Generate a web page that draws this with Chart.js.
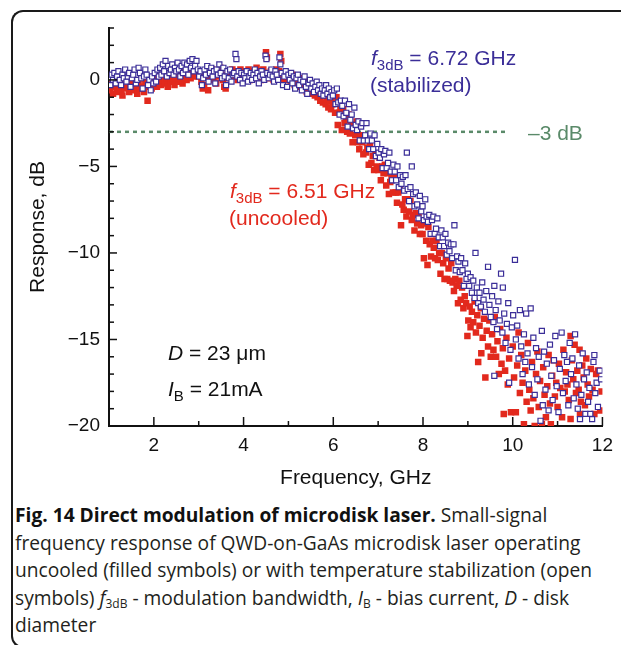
<!DOCTYPE html>
<html>
<head>
<meta charset="utf-8">
<script src="https://cdn.jsdelivr.net/npm/chart.js@4.4.0/dist/chart.umd.min.js"></script>
<style>
  html, body { margin: 0; padding: 0; background: #fff; }
  body { width: 621px; height: 645px; position: relative; overflow: hidden; }
  #frame {
    position: absolute; left: 11px; top: 10px; width: 700px; height: 634px;
    border-left: 2.5px solid #1a1a1a; border-top: 2.5px solid #1a1a1a; border-bottom: 2.5px solid #1a1a1a;
    border-radius: 12px 0 0 12px;
  }
  #chart { position: absolute; left: 0; top: 0; }
  #caption {
    position: absolute; left: 15px; top: 501px;
    font-family: "Open Sans", sans-serif; font-size: 19.2px; line-height: 27.5px;
    color: #231f20; white-space: nowrap;
  }
  #caption b { color: #111; }
  #caption sub { font-size: 12px; vertical-align: -3px; line-height: 0; }
</style>
</head>
<body>
<div id="frame"></div>
<canvas id="chart" width="621" height="500"></canvas>
<div id="caption">
  <div><b>Fig. 14 Direct modulation of microdisk laser.</b> Small-signal</div>
  <div>frequency response of QWD-on-GaAs microdisk laser operating</div>
  <div>uncooled (filled symbols) or with temperature stabilization (open</div>
  <div>symbols) <i>f</i><sub>3dB</sub> - modulation bandwidth, <i>I</i><sub>B</sub> - bias current, <i>D</i> - disk</div>
  <div>diameter</div>
</div>
<script>
// stabilized (open symbols): [frequency GHz, response dB]
const stabilizedPoints = [
  [1.00,0.1],[1.03,-0.3],[1.06,0.3],[1.09,0.0],[1.12,0.4],[1.15,-0.2],[1.18,0.2],[1.21,0.5],[1.24,0.0],[1.27,-0.3],
  [1.30,0.3],[1.33,0.1],[1.36,0.6],[1.39,-0.1],[1.42,0.2],[1.45,0.4],[1.48,-0.4],[1.51,0.1],[1.54,0.3],[1.57,0.6],
  [1.60,-0.2],[1.63,0.0],[1.66,0.7],[1.69,0.4],[1.72,0.1],[1.75,-0.5],[1.78,0.2],[1.81,0.6],[1.84,0.3],[1.87,-0.3],
  [1.90,0.0],[1.93,-0.6],[1.96,0.2],[1.99,-0.2],
  [2.02,0.4],[2.05,-0.1],[2.08,0.6],[2.11,0.2],[2.14,0.7],[2.17,0.3],[2.20,0.9],[2.23,0.5],[2.26,1.1],[2.29,0.2],
  [2.32,0.8],[2.35,0.4],[2.38,0.6],[2.41,0.9],[2.44,0.3],[2.47,0.7],[2.50,0.5],[2.53,1.0],[2.56,0.6],[2.59,0.2],
  [2.62,0.8],[2.65,0.4],[2.68,1.0],[2.71,0.6],[2.74,0.9],[2.77,0.3],[2.80,1.1],[2.83,0.7],[2.86,1.2],[2.89,0.5],
  [2.92,0.8],[2.95,1.1],[2.98,0.6],
  [3.01,0.2],[3.04,0.5],[3.07,-0.3],[3.10,0.1],[3.13,0.6],[3.16,0.3],[3.19,0.8],[3.22,-0.1],[3.25,0.4],[3.28,0.7],
  [3.31,0.2],[3.34,0.5],[3.37,-0.2],[3.40,0.6],[3.43,0.3],[3.46,0.9],[3.49,0.4],[3.52,0.1],[3.55,0.7],[3.58,0.2],
  [3.61,-0.3],[3.64,0.5],[3.67,0.1],[3.70,0.6],[3.73,-0.1],[3.76,0.3],[3.79,0.4],[3.82,1.5],[3.84,1.2],[3.86,0.2],
  [3.89,0.5],[3.92,0.0],[3.95,0.4],[3.98,-0.2],
  [4.01,0.3],[4.04,0.1],[4.07,0.5],[4.10,-0.1],[4.13,0.2],[4.16,0.4],[4.19,0.0],[4.22,0.3],[4.25,0.6],[4.28,0.1],
  [4.31,0.4],[4.34,-0.2],[4.37,0.2],[4.40,0.5],[4.43,0.3],[4.46,0.0],[4.49,1.4],[4.51,1.2],[4.53,0.4],[4.56,0.1],
  [4.59,0.3],[4.62,0.6],[4.65,0.2],[4.68,-0.1],[4.71,0.5],[4.74,0.3],[4.77,0.0],[4.80,1.3],[4.82,0.9],[4.85,0.4],
  [4.88,-0.3],[4.91,0.2],[4.94,0.5],[4.97,-0.4],
  [5.00,0.3],[5.03,0.0],[5.06,0.4],[5.09,-0.2],[5.12,0.2],[5.15,-0.5],[5.18,0.1],[5.21,0.3],[5.24,-0.3],[5.27,0.0],
  [5.30,-0.6],[5.33,-0.1],[5.36,0.2],[5.39,-0.4],[5.42,-0.8],[5.45,-0.2],[5.48,0.0],[5.51,-0.5],[5.54,-0.2],[5.57,-0.7],
  [5.60,-0.4],[5.63,-0.1],[5.66,-0.6],[5.69,-0.3],[5.72,-0.8],[5.75,-0.5],[5.78,-0.9],[5.81,-0.6],[5.84,-0.3],[5.87,-0.8],
  [5.90,-0.5],[5.93,-1.0],[5.96,-0.7],[5.99,-0.9],
  [6.02,-0.6],[6.05,-1.4],[6.08,-0.5],[6.11,-1.3],[6.14,-2.0],[6.17,-1.2],[6.20,-1.5],[6.23,-2.1],[6.26,-1.2],[6.29,-1.9],
  [6.32,-2.7],[6.35,-1.4],[6.38,-2.3],[6.41,-2.0],[6.44,-2.8],[6.47,-1.6],[6.50,-2.6],[6.53,-2.9],[6.56,-2.4],[6.59,-3.5],
  [6.62,-2.7],[6.65,-2.5],[6.68,-3.5],[6.71,-3.2],[6.74,-2.5],[6.77,-3.5],[6.80,-4.0],[6.83,-3.1],[6.86,-3.5],[6.89,-4.0],
  [6.92,-3.2],[6.95,-4.4],[6.98,-3.7],
  [7.01,-4.2],[7.04,-4.5],[7.07,-4.0],[7.10,-5.1],[7.13,-4.3],[7.16,-4.1],[7.19,-5.1],[7.22,-4.8],[7.25,-4.2],[7.28,-5.3],
  [7.31,-5.8],[7.34,-4.9],[7.37,-5.3],[7.40,-5.8],[7.43,-5.0],[7.46,-6.2],[7.49,-5.5],[7.52,-6.0],[7.55,-5.6],[7.58,-6.4],
  [7.61,-5.5],[7.64,-4.2],[7.66,-6.3],[7.69,-7.0],[7.72,-6.2],[7.75,-5.0],[7.78,-6.6],[7.81,-7.3],[7.84,-6.5],[7.87,-7.2],
  [7.90,-8.0],[7.93,-6.7],[7.96,-7.6],[7.99,-7.3],
  [8.02,-8.1],[8.05,-6.9],[8.08,-7.9],[8.11,-8.2],[8.14,-7.8],[8.17,-8.9],[8.20,-8.1],[8.23,-7.9],[8.26,-8.9],[8.29,-8.6],
  [8.32,-8.0],[8.35,-9.1],[8.38,-9.6],[8.41,-8.7],[8.44,-9.1],[8.47,-9.6],[8.50,-8.9],[8.53,-10.1],[8.56,-9.4],[8.59,-9.9],
  [8.62,-9.5],[8.65,-10.3],[8.68,-9.5],[8.70,-8.4],[8.73,-11.0],[8.76,-10.2],[8.79,-10.5],[8.82,-11.1],[8.85,-10.3],[8.88,-11.0],
  [8.91,-11.9],[8.94,-10.6],[8.97,-11.5],[9.00,-11.2],
  [9.03,-11.9],[9.06,-11.4],[9.09,-12.3],[9.12,-11.6],[9.15,-12.6],[9.17,-10.0],[9.20,-12.0],[9.23,-12.9],[9.26,-12.3],[9.29,-13.1],
  [9.32,-11.7],[9.35,-12.7],[9.38,-13.4],[9.41,-12.2],[9.45,-10.8],[9.48,-13.0],[9.51,-13.7],[9.54,-12.5],[9.57,-14.0],[9.59,-11.9],
  [9.59,-17.1],[9.62,-13.3],[9.65,-14.4],[9.68,-12.8],[9.71,-13.9],[9.74,-11.2],[9.77,-14.6],[9.78,-12.0],[9.81,-13.5],[9.84,-15.2],
  [9.87,-14.1],[9.90,-12.9],[9.92,-17.5],[9.95,-15.6],[9.98,-14.3],
  [10.01,-13.6],[10.05,-10.4],[10.07,-15.0],[10.10,-14.2],[10.13,-16.1],[10.16,-13.3],[10.19,-15.4],[10.22,-17.0],[10.25,-14.7],[10.28,-16.3],
  [10.30,-13.5],[10.33,-15.8],[10.36,-17.6],[10.40,-13.2],[10.43,-16.6],[10.46,-14.9],[10.49,-18.2],[10.52,-15.5],[10.55,-17.3],[10.58,-16.0],
  [10.62,-19.7],[10.65,-14.5],[10.67,-18.8],[10.70,-15.7],[10.73,-17.9],[10.76,-16.4],[10.80,-19.1],[10.83,-15.3],[10.86,-17.1],[10.89,-18.5],
  [10.92,-16.2],[10.95,-14.8],[10.98,-17.7],
  [11.02,-19.2],[11.05,-16.7],[11.09,-14.6],[11.12,-18.1],[11.15,-15.9],[11.18,-17.4],[11.21,-16.3],[11.24,-18.8],[11.27,-15.2],[11.30,-17.0],
  [11.33,-16.1],[11.36,-18.4],[11.39,-14.7],[11.42,-17.6],[11.45,-19.0],[11.48,-16.5],[11.50,-19.6],[11.53,-18.2],[11.56,-15.8],[11.59,-17.3],
  [11.62,-19.3],[11.65,-16.9],[11.68,-18.6],[11.71,-17.8],[11.73,-19.3],[11.77,-19.6],[11.80,-16.3],[11.82,-15.9],[11.84,-18.1],[11.87,-17.5],
  [11.90,-18.9],[11.94,-16.8],[11.97,-17.3]
];

// uncooled (filled symbols): [frequency GHz, response dB]
const uncooledPoints = [
  [1.00,-0.2],[1.03,-0.6],[1.06,-0.3],[1.09,-0.8],[1.12,-0.4],[1.15,-0.1],[1.18,-0.7],[1.21,-0.5],[1.24,-0.2],[1.27,-0.6],
  [1.30,-0.9],[1.33,-0.3],[1.36,-0.5],[1.39,0.0],[1.42,-0.4],[1.45,-0.7],[1.48,-0.2],[1.51,-0.5],[1.54,-0.1],[1.57,-0.6],
  [1.60,-0.3],[1.63,-0.8],[1.66,-0.2],[1.69,-0.5],[1.72,0.1],[1.75,-0.4],[1.78,-0.7],[1.81,-0.1],[1.84,-0.3],[1.86,-1.2],
  [1.89,-0.4],[1.92,-0.1],[1.95,-0.5],[1.98,0.0],
  [2.01,-0.3],[2.04,0.1],[2.07,-0.4],[2.10,-0.1],[2.13,0.2],[2.16,-0.3],[2.19,0.0],[2.22,0.3],[2.25,-0.2],[2.28,0.1],
  [2.31,-0.4],[2.34,0.2],[2.37,-0.1],[2.40,0.3],[2.43,0.0],[2.46,-0.3],[2.49,0.2],[2.52,0.4],[2.55,-0.1],[2.58,0.1],
  [2.61,0.3],[2.64,-0.2],[2.67,0.2],[2.70,0.5],[2.73,0.0],[2.76,0.3],[2.79,0.6],[2.82,0.1],[2.85,0.4],[2.88,0.2],
  [2.91,0.6],[2.94,0.3],[2.97,0.5],
  [3.00,0.2],[3.03,0.5],[3.06,-0.1],[3.09,-0.5],[3.12,-0.3],[3.15,0.2],[3.18,0.4],[3.21,-0.6],[3.24,0.1],[3.27,0.3],
  [3.30,0.6],[3.33,0.0],[3.36,0.3],[3.39,-0.2],[3.42,0.5],[3.45,0.2],[3.48,0.7],[3.51,0.3],[3.54,0.0],[3.57,-0.4],
  [3.60,-0.5],[3.63,0.2],[3.66,0.5],[3.69,0.1],[3.72,0.4],[3.75,0.6],[3.78,0.2],[3.81,0.5],[3.84,0.3],[3.87,0.0],
  [3.90,0.4],[3.93,0.6],[3.96,0.2],[3.99,0.5],
  [4.02,0.1],[4.05,0.4],[4.08,0.2],[4.11,0.6],[4.14,0.0],[4.17,0.3],[4.20,0.5],[4.23,0.1],[4.26,0.4],[4.29,0.7],
  [4.32,0.2],[4.35,0.5],[4.38,0.0],[4.41,0.3],[4.44,0.6],[4.47,0.2],[4.50,1.6],[4.52,1.3],[4.55,0.4],[4.58,0.1],
  [4.61,0.5],[4.64,0.3],[4.67,0.0],[4.70,0.4],[4.73,0.6],[4.76,0.2],[4.79,0.5],[4.82,1.5],[4.84,1.1],[4.87,0.3],
  [4.90,0.0],[4.93,0.4],[4.96,0.1],[4.99,0.3],
  [5.02,0.2],[5.05,-0.1],[5.08,0.3],[5.11,0.0],[5.14,-0.3],[5.17,0.2],[5.20,-0.1],[5.23,-0.4],[5.26,0.1],[5.29,-0.2],
  [5.32,-0.5],[5.35,-0.1],[5.38,-0.4],[5.41,-0.7],[5.44,-0.3],[5.47,-0.6],[5.50,-0.2],[5.53,-0.8],[5.56,-0.5],[5.59,-0.9],
  [5.62,-0.4],[5.65,-1.0],[5.68,-0.7],[5.71,-1.2],[5.74,-0.8],[5.77,-1.3],[5.80,-0.9],[5.83,-1.4],[5.86,-1.1],[5.89,-1.6],
  [5.92,-1.2],[5.95,-1.7],[5.98,-1.4],
  [6.01,-1.1],[6.04,-1.9],[6.07,-1.0],[6.10,-2.6],[6.13,-1.9],[6.16,-1.7],[6.19,-2.9],[6.22,-1.7],[6.25,-2.5],[6.28,-2.3],
  [6.31,-3.0],[6.34,-2.0],[6.37,-3.1],[6.40,-2.6],[6.43,-3.6],[6.46,-2.6],[6.49,-3.2],[6.52,-2.4],[6.55,-3.6],[6.58,-4.0],
  [6.61,-3.2],[6.64,-3.6],[6.67,-4.3],[6.70,-3.3],[6.73,-4.2],[6.76,-3.9],[6.79,-4.9],[6.82,-3.8],[6.85,-4.8],[6.88,-4.4],
  [6.91,-5.2],[6.94,-4.3],[6.97,-5.0],
  [7.00,-5.2],[7.03,-4.5],[7.06,-5.8],[7.09,-5.0],[7.12,-5.4],[7.15,-4.9],[7.18,-6.1],[7.21,-5.4],[7.24,-6.6],[7.27,-5.9],
  [7.30,-5.6],[7.33,-6.5],[7.36,-5.5],[7.39,-6.5],[7.42,-7.1],[7.45,-6.5],[7.48,-6.2],[7.51,-8.4],[7.54,-7.2],[7.57,-7.5],
  [7.60,-6.9],[7.63,-7.9],[7.66,-6.9],[7.69,-7.6],[7.72,-7.0],[7.75,-8.1],[7.78,-7.8],[7.81,-8.7],[7.84,-7.7],[7.87,-8.3],
  [7.90,-7.7],[7.93,-8.9],[7.96,-8.4],[7.99,-8.9],
  [8.02,-10.3],[8.04,-8.3],[8.07,-9.3],[8.10,-10.7],[8.12,-8.5],[8.15,-9.5],[8.18,-10.2],[8.21,-9.3],[8.24,-9.7],[8.27,-10.3],
  [8.30,-9.3],[8.33,-10.4],[8.36,-10.0],[8.39,-11.2],[8.42,-10.0],[8.45,-10.6],[8.48,-11.5],[8.51,-10.3],[8.54,-11.5],[8.57,-10.9],
  [8.60,-11.6],[8.63,-10.6],[8.66,-11.7],[8.69,-12.2],[8.72,-11.5],[8.75,-11.9],[8.78,-12.9],[8.81,-11.6],[8.84,-12.7],[8.87,-12.0],
  [8.90,-13.2],[8.93,-12.5],[8.96,-12.9],[8.99,-14.8],
  [9.01,-13.9],[9.04,-13.1],[9.06,-14.3],[9.09,-13.4],[9.12,-14.0],[9.15,-12.8],[9.18,-14.6],[9.21,-13.6],[9.23,-16.3],[9.26,-14.2],
  [9.29,-13.2],[9.30,-15.8],[9.33,-14.9],[9.36,-13.8],[9.39,-17.2],[9.42,-14.5],[9.45,-15.4],[9.48,-13.9],[9.51,-16.0],[9.54,-14.7],
  [9.57,-15.6],[9.60,-13.7],[9.63,-16.0],[9.66,-15.1],[9.69,-17.0],[9.72,-14.4],[9.75,-16.4],[9.78,-15.5],[9.80,-19.3],[9.83,-16.8],
  [9.86,-14.9],[9.89,-17.6],[9.92,-16.1],[9.96,-19.2],
  [10.00,-15.4],[10.03,-17.2],[10.07,-19.2],[10.10,-16.5],[10.13,-14.6],[10.16,-18.1],[10.19,-15.9],[10.22,-17.5],[10.25,-19.9],[10.28,-16.8],
  [10.31,-18.6],[10.34,-15.2],[10.37,-17.9],[10.40,-19.1],[10.43,-16.3],[10.46,-18.4],[10.49,-20.0],[10.52,-17.0],[10.55,-15.7],[10.58,-18.9],
  [10.61,-17.4],[10.65,-19.9],[10.68,-16.6],[10.71,-18.2],[10.74,-19.5],[10.77,-17.7],[10.80,-15.9],[10.83,-18.7],[10.85,-19.9],[10.88,-17.1],
  [10.91,-16.2],[10.94,-18.3],[10.97,-17.5],
  [11.00,-18.9],[11.03,-16.4],[11.06,-17.8],[11.10,-19.5],[11.13,-15.6],[11.16,-18.0],[11.19,-16.9],[11.22,-17.6],[11.25,-18.5],[11.29,-14.8],
  [11.29,-19.6],[11.32,-16.2],[11.35,-17.3],[11.38,-15.3],[11.41,-18.1],[11.44,-16.8],[11.47,-17.9],[11.49,-15.6],[11.50,-19.3],[11.52,-18.6],
  [11.55,-16.5],[11.58,-17.2],[11.61,-18.8],[11.64,-16.1],[11.67,-17.6],[11.70,-18.3],[11.74,-16.7],[11.78,-17.9],[11.82,-19.3],[11.86,-17.0],
  [11.90,-16.8],[11.95,-19.1],[11.98,-18.0]
];

// -3 dB reference line
const refLineFreq = [1, 9.9];
const refLineDb = -3;

// axis ranges and labelled ticks
const freqRange = [1, 12];
const dbRange = [-20, 3];
const freqLabelled = [2, 4, 6, 8, 10, 12];
const dbLabelled = [0, -5, -10, -15, -20];

const BLUE = '#3b2e98';
const RED = '#e2291d';
const GREEN = '#5a8a69';
const TXT = '#111';
const FONT = '"Liberation Sans", Arial, Helvetica, sans-serif';

function toXY(list) {
    return list.map(p => ({ x: p[0], y: p[1] }));
}

function drawRich(ctx, x, y, parts) {
    parts.forEach(p => {
        ctx.font = p.font;
        ctx.fillStyle = p.color;
        ctx.fillText(p.text, x, y + (p.dy || 0));
        x += ctx.measureText(p.text).width;
    });
}

// inward tick marks + text notes
const notesPlugin = {
    id: 'notes',
    afterDraw(chart) {
        const ctx = chart.ctx;
        const xs = chart.scales.x;
        const ys = chart.scales.y;
        ctx.save();
        ctx.strokeStyle = TXT;
        ctx.lineWidth = 1.5;
        xs.ticks.forEach(t => {
            const px = xs.getPixelForValue(t.value);
            const len = freqLabelled.includes(t.value) ? 9 : 5;
            ctx.beginPath();
            ctx.moveTo(px, ys.bottom);
            ctx.lineTo(px, ys.bottom - len);
            ctx.stroke();
        });
        ys.ticks.forEach(t => {
            const py = ys.getPixelForValue(t.value);
            const len = dbLabelled.includes(t.value) ? 8 : 5;
            ctx.beginPath();
            ctx.moveTo(xs.left, py);
            ctx.lineTo(xs.left + len, py);
            ctx.stroke();
        });

        ctx.textBaseline = 'alphabetic';
        ctx.textAlign = 'left';
        const big = '21px ' + FONT;
        const ital = 'italic 21px ' + FONT;
        const sub = '15px ' + FONT;

        drawRich(ctx, 371, 65, [
            { text: 'f', font: ital, color: BLUE },
            { text: '3dB', font: sub, color: BLUE, dy: 5 },
            { text: ' = 6.72 GHz', font: big, color: BLUE }
        ]);
        drawRich(ctx, 370, 92, [{ text: '(stabilized)', font: big, color: BLUE }]);

        drawRich(ctx, 528, 140, [{ text: '\u20133 dB', font: big, color: GREEN }]);

        drawRich(ctx, 230, 198, [
            { text: 'f', font: ital, color: RED },
            { text: '3dB', font: sub, color: RED, dy: 5 },
            { text: ' = 6.51 GHz', font: big, color: RED }
        ]);
        drawRich(ctx, 229, 225, [{ text: '(uncooled)', font: big, color: RED }]);

        drawRich(ctx, 168, 360, [
            { text: 'D', font: ital, color: TXT },
            { text: ' = 23 \u03bcm', font: big, color: TXT }
        ]);
        drawRich(ctx, 168, 396, [
            { text: 'I', font: ital, color: TXT },
            { text: 'B', font: sub, color: TXT, dy: 5 },
            { text: ' = 21mA', font: big, color: TXT }
        ]);
        ctx.restore();
    }
};

new Chart(document.getElementById('chart'), {
    type: 'scatter',
    data: {
        datasets: [
            {
                label: 'stabilized',
                data: toXY(stabilizedPoints),
                pointStyle: 'rect',
                pointRadius: 3.6,
                pointBackgroundColor: '#ffffff',
                pointBorderColor: BLUE,
                pointBorderWidth: 1.2,
                order: 0
            },
            {
                label: 'uncooled',
                data: toXY(uncooledPoints),
                pointStyle: 'rect',
                pointRadius: 4.6,
                pointBackgroundColor: RED,
                pointBorderWidth: 0,
                order: 1
            },
            {
                label: '-3 dB',
                data: refLineFreq.map(f => ({ x: f, y: refLineDb })),
                showLine: true,
                borderColor: GREEN,
                borderWidth: 2.5,
                borderDash: [4, 4],
                pointRadius: 0,
                order: 2
            }
        ]
    },
    options: {
        responsive: false,
        animation: false,
        devicePixelRatio: 1,
        layout: { padding: { top: 28, right: 14, left: 0, bottom: 0 } },
        plugins: { legend: { display: false }, tooltip: { enabled: false } },
        scales: {
            x: {
                type: 'linear',
                min: freqRange[0],
                max: freqRange[1],
                afterFit: s => { s.height = 74; },
                grid: { display: false, drawTicks: false },
                border: { display: true, color: TXT, width: 2 },
                ticks: {
                    stepSize: 1,
                    autoSkip: false,
                    maxRotation: 0,
                    padding: 8,
                    color: TXT,
                    font: { family: FONT, size: 19 },
                    callback: v => freqLabelled.includes(v) ? String(v) : ''
                },
                title: {
                    display: true,
                    text: 'Frequency, GHz',
                    color: TXT,
                    font: { family: FONT, size: 21 },
                    padding: { top: 9, bottom: 9 }
                }
            },
            y: {
                type: 'linear',
                min: dbRange[0],
                max: dbRange[1],
                afterFit: s => { s.width = 109; },
                grid: { display: false, drawTicks: false },
                border: { display: true, color: TXT, width: 2 },
                ticks: {
                    stepSize: 1,
                    autoSkip: false,
                    padding: 9,
                    color: TXT,
                    font: { family: FONT, size: 19 },
                    callback: v => dbLabelled.includes(v) ? (v < 0 ? '\u2212' + Math.abs(v) : String(v)) : ''
                },
                title: {
                    display: true,
                    text: 'Response, dB',
                    color: TXT,
                    font: { family: FONT, size: 21 },
                    padding: { top: 26, bottom: 0 }
                }
            }
        }
    },
    plugins: [notesPlugin]
});
</script>
</body>
</html>
